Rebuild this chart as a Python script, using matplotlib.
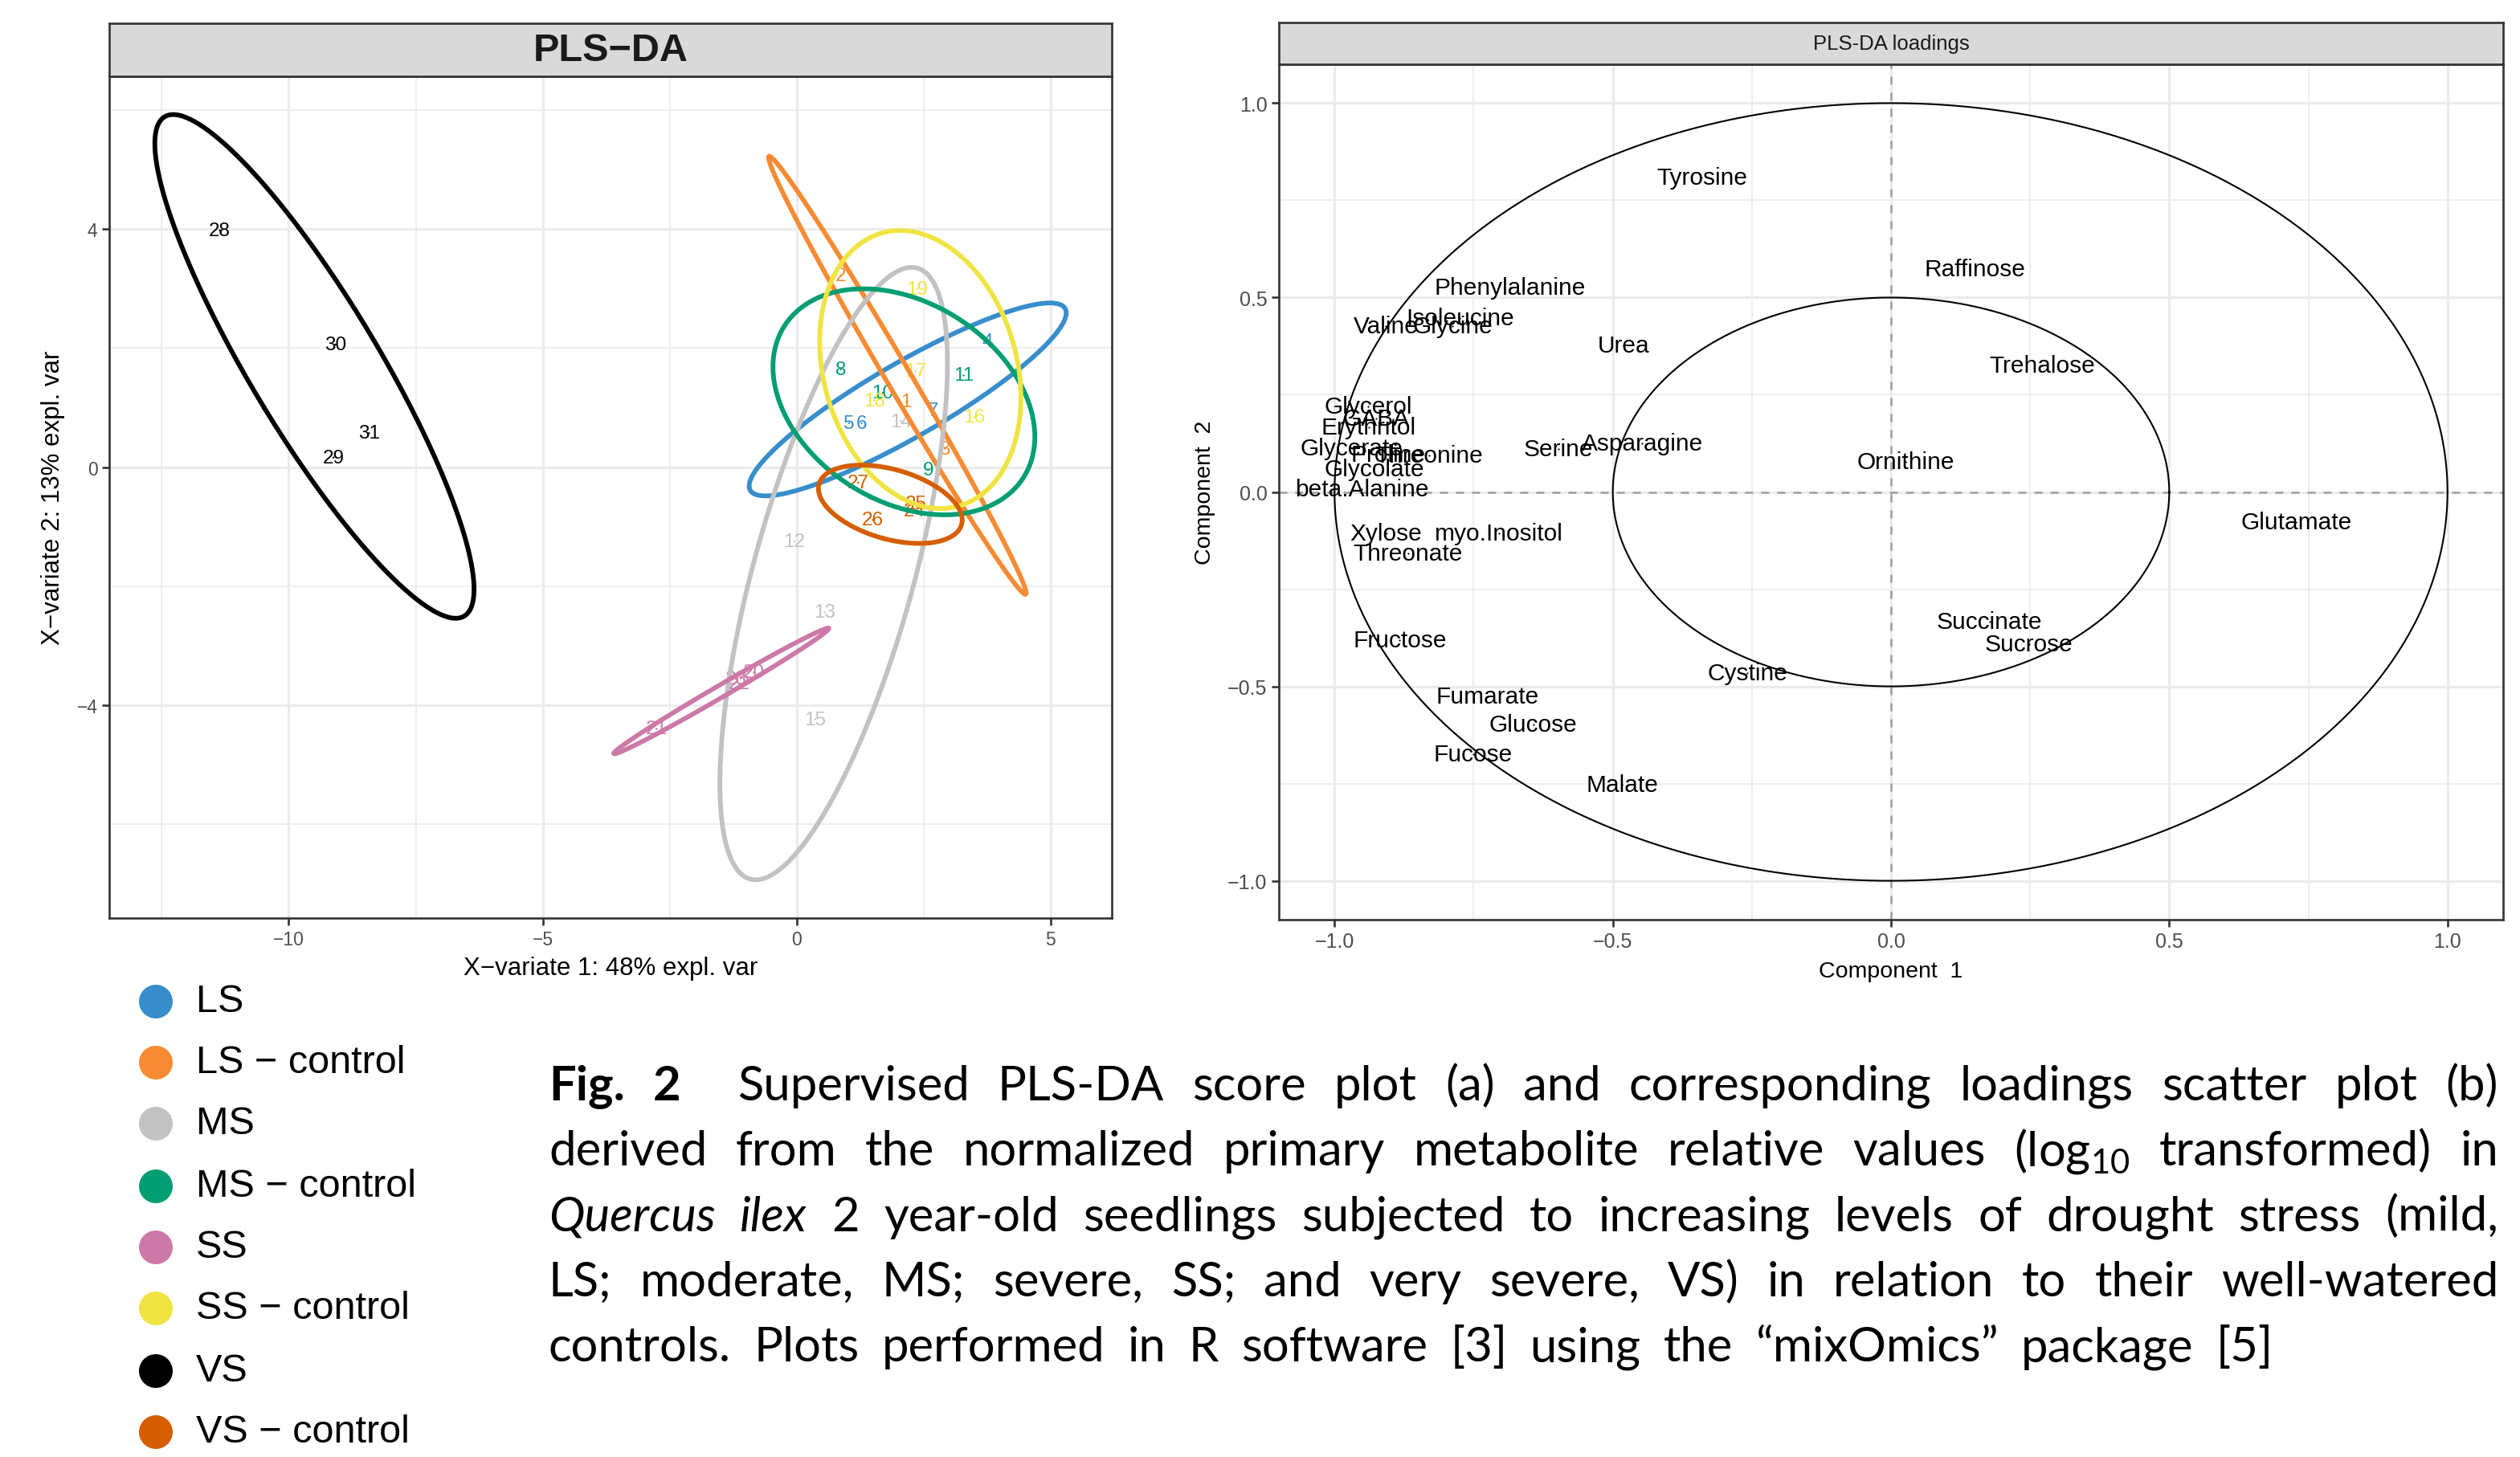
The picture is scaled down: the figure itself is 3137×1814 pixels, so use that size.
import numpy as np
import matplotlib
matplotlib.use("Agg")
import matplotlib.pyplot as plt
from matplotlib.ticker import FixedLocator, FuncFormatter

plt.rcParams['font.family'] = ['Liberation Sans', 'DejaVu Sans']
plt.rcParams['mathtext.fontset'] = 'custom'
plt.rcParams['mathtext.rm'] = 'Lato'
plt.rcParams['mathtext.it'] = 'Lato:italic'
plt.rcParams['mathtext.bf'] = 'Lato:bold'

# ---------------- data: PLS-DA scores ----------------
groups = ["LS", "LS − control", "MS", "MS − control", "SS", "SS − control", "VS", "VS − control"]
group_colors = ["#388ECC", "#F68B33", "#C2C2C2", "#009E73", "#CC79A7", "#F0E442", "#000000", "#D55E00"]

sample_id = list(range(1, 32))
sample_group = ["LS − control", "LS − control", "LS − control",
                "LS", "LS", "LS", "LS",
                "MS − control", "MS − control", "MS − control", "MS − control",
                "MS", "MS", "MS", "MS",
                "SS − control", "SS − control", "SS − control", "SS − control",
                "SS", "SS", "SS", "SS",
                "VS − control", "VS − control", "VS − control", "VS − control",
                "VS", "VS", "VS", "VS"]
score1 = [2.16, 0.87, 2.92, 3.76, 1.03, 1.28, 2.68, 0.87, 2.59, 1.70, 3.29,
          -0.05, 0.55, 2.05, 0.37, 3.50, 2.34, 1.53, 2.37, -0.84, -2.76,
          -1.13, -1.20, 2.32, 2.35, 1.50, 1.21, -11.36, -9.12, -9.08, -8.42]
score2 = [1.10, 3.22, 0.31, 2.12, 0.74, 0.74, 0.95, 1.64, -0.04, 1.25, 1.54,
          -1.25, -2.44, 0.77, -4.24, 0.84, 1.61, 1.12, 2.99, -3.45, -4.40,
          -3.64, -3.56, -0.74, -0.61, -0.89, -0.26, 3.98, 0.16, 2.06, 0.57]

# ---------------- data: PLS-DA loadings ----------------
metabolites = ["Tyrosine", "Raffinose", "Phenylalanine", "Isoleucine", "Valine", "Glycine",
               "Urea", "Trehalose", "Glycerol", "GABA", "Erythritol", "Glycerate", "Proline",
               "Threonine", "Glycolate", "beta.Alanine", "Serine", "Asparagine", "Ornithine",
               "Glutamate", "Xylose", "myo.Inositol", "Threonate", "Fructose", "Succinate",
               "Sucrose", "Cystine", "Fumarate", "Glucose", "Fucose", "Malate"]
load1 = [-0.340, 0.151, -0.684, -0.775, -0.908, -0.788, -0.480, 0.272, -0.940, -0.926,
         -0.939, -0.969, -0.904, -0.830, -0.929, -0.951, -0.598, -0.447, 0.026, 0.728,
         -0.907, -0.705, -0.868, -0.883, 0.177, 0.248, -0.258, -0.725, -0.643, -0.751, -0.483]
load2 = [0.808, 0.573, 0.525, 0.447, 0.426, 0.426, 0.377, 0.326, 0.220, 0.189,
         0.167, 0.112, 0.096, 0.093, 0.059, 0.008, 0.110, 0.124, 0.078, -0.078,
         -0.107, -0.107, -0.157, -0.381, -0.334, -0.392, -0.466, -0.525, -0.598, -0.675, -0.753]
circle_radii = [0.5, 1.0]

caption_lines = [
    "*Fig. *2  Supervised PLS-DA score plot (a) and corresponding loadings scatter plot (b)",
    "derived from the normalized primary metabolite relative values (log$_{10}$ transformed) in",
    "_Quercus _ilex 2 year-old seedlings subjected to increasing levels of drought stress (mild,",
    "LS; moderate, MS; severe, SS; and very severe, VS) in relation to their well-watered",
    "controls. Plots performed in R software [3] using the “mixOmics” package [5]",
]

W, H = 3137, 1815
fig = plt.figure(figsize=(W / 100, H / 100), dpi=100)


def box(left, top, right, bottom):
    return [left / W, 1 - bottom / H, (right - left) / W, (bottom - top) / H]


def conf_ellipse(x, y, level=0.95, n=300):
    x = np.asarray(x)
    y = np.asarray(y)
    cov = np.cov(x, y)
    t = np.sqrt(-2 * np.log(1 - level))
    vals, vecs = np.linalg.eigh(cov)
    a = np.linspace(0, 2 * np.pi, n)
    circ = np.vstack([np.cos(a), np.sin(a)])
    pts = vecs @ (np.sqrt(np.maximum(vals, 0))[:, None] * circ) * t
    return x.mean() + pts[0], y.mean() + pts[1]


def style_panel(ax, labelsize):
    for s in ax.spines.values():
        s.set_color('#333333')
        s.set_linewidth(1.9)
    ax.grid(which='major', color='#EBEBEB', lw=2.3)
    ax.grid(which='minor', color='#EBEBEB', lw=1.2)
    ax.set_axisbelow(True)
    ax.tick_params(which='major', length=6.5, width=1.9, color='#333333',
                   labelcolor='#4D4D4D', labelsize=labelsize, pad=4)
    ax.tick_params(which='minor', length=0)


def strip(ax, title, size, weight):
    ax.set_facecolor('#D9D9D9')
    for s in ax.spines.values():
        s.set_color('#333333')
        s.set_linewidth(1.9)
    ax.set_xticks([])
    ax.set_yticks([])
    ax.text(0.5, 0.5, title, transform=ax.transAxes, ha='center', va='center',
            fontsize=size, fontweight=weight, color='#1A1A1A')


minus = FuncFormatter(lambda v, p: ("%g" % v).replace('-', '−'))
minus1 = FuncFormatter(lambda v, p: ("%.1f" % v).replace('-', '−'))

# ---------------- overlay (pixel coordinates) ----------------
ov = fig.add_axes([0, 0, 1, 1])
ov.set_xlim(0, W)
ov.set_ylim(H, 0)
ov.axis('off')

# ---------------- left: score plot ----------------
ax1 = fig.add_axes(box(136, 96, 1384, 1144))
strip(fig.add_axes(box(136, 30, 1384, 96)), "PLS−DA", 35, 'bold')
style_panel(ax1, 16.5)

s1 = np.array(score1)
s2 = np.array(score2)
sg = np.array(sample_group)
all_x, all_y = [], []
ells = []
for g, c in zip(groups, group_colors):
    m = sg == g
    ex, ey = conf_ellipse(s1[m], s2[m])
    ells.append((ex, ey, c))
    all_x.extend(ex)
    all_y.extend(ey)

for sid, g, x, y in zip(sample_id, sample_group, score1, score2):
    c = group_colors[groups.index(g)]
    ax1.text(x, y, str(sid), color=c, fontsize=17.5, ha='center', va='center', zorder=3)
ax1.scatter(score1, score2, s=3, c=[group_colors[groups.index(g)] for g in sample_group],
            linewidths=0, zorder=3.5)
for ex, ey, c in ells:
    ax1.plot(ex, ey, color=c, lw=4.2, zorder=4, solid_capstyle='round')

xr = max(all_x) - min(all_x)
yr = max(all_y) - min(all_y)
ax1.set_xlim(min(all_x) - 0.05 * xr, max(all_x) + 0.05 * xr)
ax1.set_ylim(min(all_y) - 0.05 * yr, max(all_y) + 0.05 * yr)
ax1.xaxis.set_major_locator(FixedLocator([-10, -5, 0, 5]))
ax1.xaxis.set_minor_locator(FixedLocator([-12.5, -7.5, -2.5, 2.5]))
ax1.yaxis.set_major_locator(FixedLocator([-4, 0, 4]))
ax1.yaxis.set_minor_locator(FixedLocator([-6, -2, 2, 6]))
ax1.xaxis.set_major_formatter(minus)
ax1.yaxis.set_major_formatter(minus)

ov.text(760, 1206, "X−variate 1: 48% expl. var", fontsize=22.5, ha='center', va='center')
ov.text(66, 620, "X−variate 2: 13% expl. var", fontsize=22.5, ha='center', va='center',
        rotation=90)

# ---------------- right: loadings ----------------
ax2 = fig.add_axes(box(1592, 81, 3116, 1146))
strip(fig.add_axes(box(1592, 29, 3116, 81)), "PLS-DA loadings", 18.5, 'normal')
style_panel(ax2, 18)
a = np.linspace(0, 2 * np.pi, 400)
for r in circle_radii:
    ax2.plot(r * np.cos(a), r * np.sin(a), color='black', lw=1.5, zorder=2)
ax2.axhline(0, color='#9E9E9E', lw=1.8, ls=(0, (4, 4)), zorder=1.5)
ax2.axvline(0, color='#9E9E9E', lw=1.8, ls=(0, (4, 4)), zorder=1.5)
for name, x, y in zip(metabolites, load1, load2):
    ax2.text(x, y, name, fontsize=21.5, ha='center', va='center', zorder=3)
ax2.scatter(load1, load2, s=2.5, c='black', linewidths=0, zorder=3.5)
ax2.set_xlim(-1.1, 1.1)
ax2.set_ylim(-1.1, 1.1)
ax2.xaxis.set_major_locator(FixedLocator([-1, -0.5, 0, 0.5, 1]))
ax2.xaxis.set_minor_locator(FixedLocator([-0.75, -0.25, 0.25, 0.75]))
ax2.yaxis.set_major_locator(FixedLocator([-1, -0.5, 0, 0.5, 1]))
ax2.yaxis.set_minor_locator(FixedLocator([-0.75, -0.25, 0.25, 0.75]))
ax2.xaxis.set_major_formatter(minus1)
ax2.yaxis.set_major_formatter(minus1)

ov.text(2354, 1210, "Component  1", fontsize=20.5, ha='center', va='center')
ov.text(1500, 613, "Component  2", fontsize=20.5, ha='center', va='center', rotation=90)

# ---------------- legend ----------------
leg_y = [1248, 1324, 1400, 1478, 1554, 1630, 1708, 1784]
ov.scatter([194] * len(groups), leg_y, s=(42 * 0.72) ** 2, c=group_colors, linewidths=0)
for g, y in zip(groups, leg_y):
    ov.text(244, y, g, fontsize=35, ha='left', va='center')

# ---------------- caption (justified) ----------------
renderer = fig.canvas.get_renderer()
cap_left = 683
cap_right = [3110, 3110, 3110, 3110, 2830]
cap_font = ['Lato', 'DejaVu Sans']
for i, line in enumerate(caption_lines):
    y = 1370 + 81.3 * i
    arts = []
    for w in line.split(' '):
        weight, style = 'normal', 'normal'
        if w.startswith('*'):
            w, weight = w[1:], 'bold'
        elif w.startswith('_'):
            w, style = w[1:], 'italic'
        arts.append(ov.text(cap_left, y, w, fontsize=43, family=cap_font, fontweight=weight,
                            fontstyle=style, ha='left', va='baseline'))
    widths = [t.get_window_extent(renderer).width if t.get_text() else 0 for t in arts]
    gap = (cap_right[i] - cap_left - sum(widths)) / (len(arts) - 1)
    x = cap_left
    for t, wd in zip(arts, widths):
        t.set_x(x)
        x += wd + gap

fig.savefig("out.png", dpi=100)
